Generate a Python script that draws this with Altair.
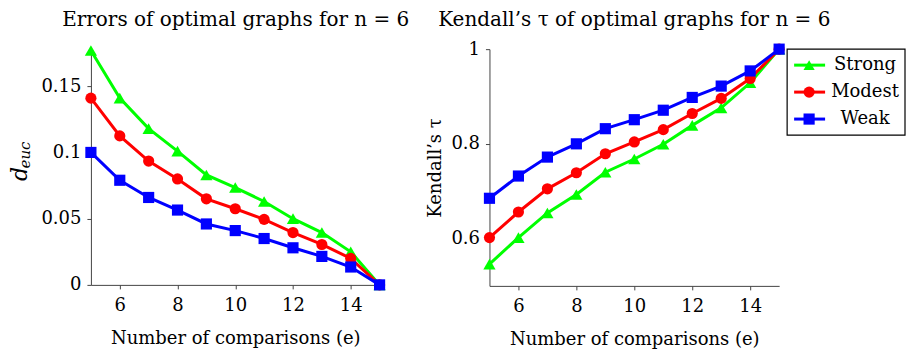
import altair as alt
import pandas as pd

e_vals = list(range(5, 16))
series = ["Strong", "Modest", "Weak"]
colors = ["#00ff00", "#ff0000", "#0000ff"]
shapes = ["triangle-up", "circle", "square"]
sizes = [150, 125, 125]

err_strong = [0.177, 0.141, 0.118, 0.101, 0.083, 0.0735, 0.063, 0.050, 0.0395, 0.025, 0.0]
err_modest = [0.141, 0.1125, 0.0935, 0.080, 0.065, 0.0575, 0.0495, 0.0395, 0.0305, 0.020, 0.0]
err_weak = [0.100, 0.079, 0.066, 0.0565, 0.046, 0.041, 0.035, 0.028, 0.0215, 0.0135, 0.0]

tau_strong = [0.546, 0.602, 0.654, 0.693, 0.740, 0.768, 0.799, 0.839, 0.876, 0.929, 1.0]
tau_modest = [0.602, 0.656, 0.705, 0.739, 0.779, 0.804, 0.830, 0.864, 0.896, 0.938, 1.0]
tau_weak = [0.685, 0.732, 0.772, 0.800, 0.832, 0.851, 0.871, 0.898, 0.922, 0.954, 1.0]

x_ticks = [6, 8, 10, 12, 14]
err_ticks = [0, 0.05, 0.1, 0.15]
tau_ticks = [0.6, 0.8, 1.0]

titles = ["Errors of optimal graphs for n = 6", "Kendall’s τ of optimal graphs for n = 6"]

FONT = "DejaVu Serif"
FS = 18


def make_df(vals):
    rows = []
    for s, v in zip(series, vals):
        for x, y in zip(e_vals, v):
            rows.append({"e": x, "series": s, "value": y})
    return pd.DataFrame(rows)


err_df = make_df([err_strong, err_modest, err_weak])
tau_df = make_df([tau_strong, tau_modest, tau_weak])


def data_layers(df, ydomain, yticks, ytitle):
    X = alt.X("e:Q", scale=alt.Scale(domain=[5, 15], nice=False, zero=False),
              axis=alt.Axis(values=x_ticks, title="Number of comparisons (e)",
                            labelFont=FONT, labelFontSize=FS,
                            labelPadding=8, titlePadding=15))
    Y = alt.Y("value:Q", scale=alt.Scale(domain=ydomain, nice=False, zero=False),
              axis=alt.Axis(values=yticks, format="~g", title=ytitle,
                            labelFont=FONT, labelFontSize=FS,
                            labelPadding=6, titlePadding=6))
    layers = []
    for s, c, sh, sz in zip(series, colors, shapes, sizes):
        d = alt.Chart(df).transform_filter(alt.datum.series == s)
        layers.append(d.mark_line(color=c, strokeWidth=3).encode(x=X, y=Y))
        layers.append(d.mark_point(color=c, fill=c, filled=True, opacity=1,
                                   shape=sh, size=sz).encode(x=X, y=Y))
    return layers


def title_mark(text):
    return alt.Chart(pd.DataFrame({"t": [text]})).mark_text(
        font=FONT, fontSize=20, align="center", baseline="alphabetic", color="black"
    ).encode(text="t:N", x=alt.value(145), y=alt.value(-23))


W, H = 289, 236

# Left panel
left_layers = data_layers(err_df, [0, 0.178], err_ticks, None)
ylab_df = pd.DataFrame({"main": ["d"], "sub": ["euc"]})
d_text = alt.Chart(ylab_df).mark_text(angle=270, font=FONT, fontStyle="italic",
                                      fontSize=22, baseline="middle", align="center").encode(
    text="main:N", x=alt.value(-71), y=alt.value(125))
sub_text = alt.Chart(ylab_df).mark_text(angle=270, font=FONT, fontStyle="italic",
                                        fontSize=15, baseline="middle", align="center").encode(
    text="sub:N", x=alt.value(-66), y=alt.value(106))
left = alt.layer(*left_layers, d_text, sub_text, title_mark(titles[0])).properties(
    width=W, height=H)

# Right panel
right_data = alt.layer(*data_layers(tau_df, [0.5, 1.0], tau_ticks, "Kendall’s τ"))

leg_df = pd.DataFrame({"series": series})
LY = alt.Y("series:N", scale=alt.Scale(type="point", domain=series, range=[16, 70], padding=0),
           axis=None)
LC = alt.Color("series:N", scale=alt.Scale(domain=series, range=colors), legend=None)
LS = alt.Shape("series:N", scale=alt.Scale(domain=series, range=shapes), legend=None)
box = alt.Chart(leg_df.head(1)).mark_rect(fill="white", stroke="black", strokeWidth=1.2).encode(
    x=alt.value(298), x2=alt.value(416), y=alt.value(0), y2=alt.value(86))
leg_rule = alt.Chart(leg_df).mark_rule(strokeWidth=3).encode(
    x=alt.value(305), x2=alt.value(336), y=LY, color=LC)
leg_pt = alt.Chart(leg_df).mark_point(filled=True, opacity=1, size=125).encode(
    x=alt.value(320), y=LY, color=LC, shape=LS)
leg_txt = alt.Chart(leg_df).mark_text(font=FONT, fontSize=FS, align="center",
                                      baseline="middle", color="black").encode(
    x=alt.value(376), y=LY, text="series:N")
legend = alt.layer(box, leg_rule, leg_pt, leg_txt)

right = alt.layer(right_data, legend, title_mark(titles[1])).resolve_scale(
    y="independent", color="independent", shape="independent").properties(
    width=290, height=237)

chart = alt.hconcat(left, right, spacing=110, bounds="flush").properties(
    padding={"left": 1, "top": 2, "right": 0, "bottom": 0}
).configure_view(stroke=None).configure_axis(
    grid=False, domainColor="#444", tickColor="#444", tickSize=4,
    labelFont=FONT, labelFontSize=FS, labelColor="black",
    titleFont=FONT, titleFontSize=FS, titleFontWeight="normal", titleColor="black"
)

chart.save("out.html", embed_options={"renderer": "svg", "actions": False})
